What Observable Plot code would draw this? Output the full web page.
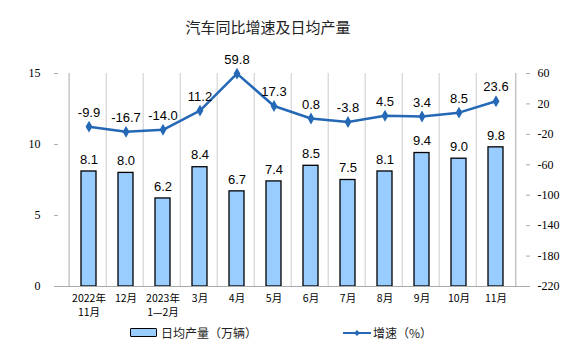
<!DOCTYPE html>
<html><head><meta charset="utf-8">
<script src="https://cdn.jsdelivr.net/npm/d3@7"></script>
<script src="https://cdn.jsdelivr.net/npm/@observablehq/plot@0.6"></script>
<style>
body{margin:0;background:#fff;}
#wrap{position:relative;width:576px;height:357px;font-family:"Noto Sans CJK SC",sans-serif;}
#title{position:absolute;left:0;width:536px;top:16px;text-align:center;font-size:15px;color:#222;}
.leg{position:absolute;top:324px;font-size:12px;color:#222;display:flex;align-items:center;}
</style></head><body>
<div id="wrap">
<div id="chart"></div>
<div id="title">汽车同比增速及日均产量</div>
<div class="leg" style="left:130px"><span style="display:inline-block;width:25px;height:7px;background:#99ccff;border:1.5px solid #000;border-radius:1px;margin-right:4px"></span>日均产量（万辆）</div>
<div class="leg" style="left:343px"><svg width="28" height="10" style="margin-right:2px"><line x1="0" y1="5" x2="28" y2="5" stroke="#2468b6" stroke-width="2"/><path d="M14,2 L17,5 L14,8 L11,5Z" fill="#2468b6"/></svg>增速（%）</div>
</div>
<script>
const categories = ["2022年\n11月","12月","2023年\n1—2月","3月","4月","5月","6月","7月","8月","9月","10月","11月"];
const output = [8.1,8.0,6.2,8.4,6.7,7.4,8.5,7.5,8.1,9.4,9.0,9.8];
const growth = [-9.9,-16.7,-14.0,11.2,59.8,17.3,0.8,-3.8,4.5,3.4,8.5,23.6];
const leftTicks = [0,5,10,15];
const rightTicks = [-220,-180,-140,-100,-60,-20,20,60];

const rMin = -220, rMax = 60, lMax = 15;
const toLeft = v => (v - rMin) / (rMax - rMin) * lMax;

const rows = categories.map((c,i)=>({c, out: output[i], g: growth[i], gl: toLeft(growth[i])}));
const blue = "#2468b6";
const serif = "Liberation Serif, Times New Roman, serif";

const plot = Plot.plot({
  width: 576, height: 357,
  marginTop: 73, marginBottom: 71, marginLeft: 54, marginRight: 47,
  style: {fontFamily: "Liberation Sans, Arial, sans-serif", fontSize: "12px", color: "#000", background: "transparent"},
  x: {domain: categories, padding: 0.6, label: null},
  y: {domain: [0, lMax], label: null},
  marks: [
    Plot.barY(rows, {x: "c", y: "out", fill: "#99ccff", stroke: "#000", strokeWidth: 1.3}),
    Plot.ruleY([0], {stroke: "#aaa"}),
    Plot.ruleX([0], {x: () => categories[0], dx: -19.8, y1: 0, y2: lMax, stroke: "#aaa"}),
    Plot.ruleX([0], {x: () => categories[11], dx: 19.8, y1: 0, y2: lMax, stroke: "#aaa"}),
    Plot.tickX(categories, {x: d => d, dx: -19.8, y1: 0, y2: 0, stroke: "#ccc"}),
    Plot.axisX({tickSize: 0, tickPadding: 6, fontFamily: "Noto Sans CJK SC", fontSize: 10.5, lineHeight: 1.3, stroke: "none"}),
    Plot.axisY(leftTicks, {anchor: "left", tickSize: 4, tickPadding: 14, fontFamily: serif, fontSize: 12, stroke: "#aaa", dx: 4}),
    Plot.axisY(rightTicks.map(toLeft), {anchor: "right", tickSize: 4, tickPadding: 8, fontFamily: serif, fontSize: 12, stroke: "#aaa", dx: -4, tickFormat: d => Math.round(d / lMax * (rMax - rMin) + rMin)}),
    Plot.text(rows, {x: "c", y: "out", text: d => d.out.toFixed(1), dy: -12, fontSize: 13}),
    Plot.line(rows, {x: "c", y: "gl", stroke: blue, strokeWidth: 2.5}),
    Plot.dot(rows, {x: "c", y: "gl", symbol: "diamond", r: 3.6, fill: blue}),
    Plot.text(rows, {x: "c", y: "gl", text: d => d.g.toFixed(1), dy: -14, fontSize: 13})
  ]
});
document.getElementById("chart").appendChild(plot);
</script>
</body></html>
